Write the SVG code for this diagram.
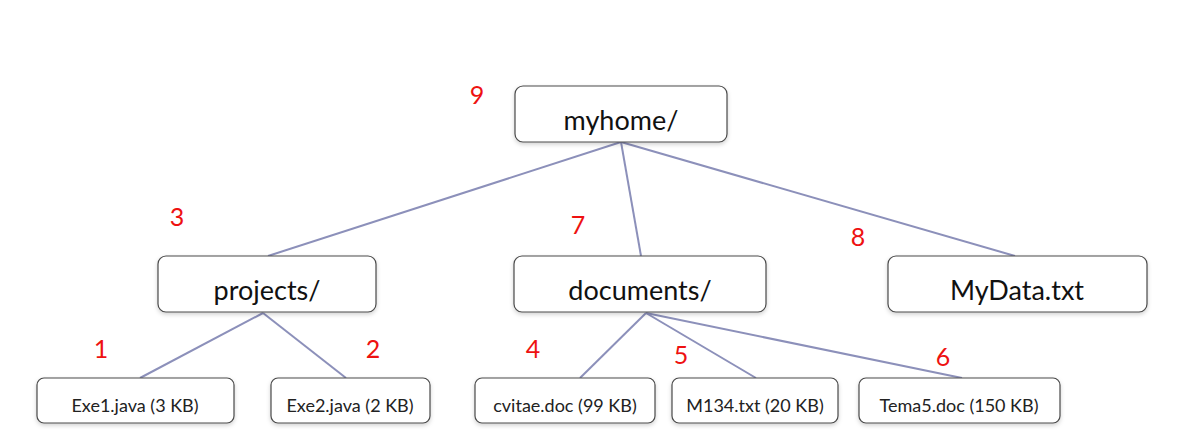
<svg xmlns="http://www.w3.org/2000/svg" width="1177" height="448" viewBox="0 0 1177 448">
<defs>
<filter id="sh" x="-10%" y="-20%" width="120%" height="150%">
<feDropShadow dx="0" dy="2" stdDeviation="2" flood-color="#000" flood-opacity="0.18"/>
</filter>
<style>
.box{fill:#fff;stroke:#4a4a4a;stroke-width:1.2;filter:url(#sh)}
.big{font-family:Lato,"Open Sans",sans-serif;font-size:27px;fill:#111;text-anchor:middle}
.small{font-family:Lato,"Open Sans",sans-serif;font-size:18px;fill:#222;text-anchor:middle}
.num{font-family:Lato,"Open Sans",sans-serif;font-size:25px;fill:#ee1111;text-anchor:middle}
.edge{stroke:#8c90ba;stroke-width:2;fill:none}
</style>
</defs>
<rect width="1177" height="448" fill="#fff"/>
<g id="connectors">
<line class="edge" x1="621" y1="142" x2="268" y2="256"/>
<line class="edge" x1="621" y1="142" x2="641" y2="256"/>
<line class="edge" x1="621" y1="142" x2="1015" y2="256"/>
<line class="edge" x1="263" y1="313" x2="140" y2="378"/>
<line class="edge" x1="263" y1="313" x2="346" y2="378"/>
<line class="edge" x1="646" y1="313" x2="580" y2="378"/>
<line class="edge" x1="646" y1="313" x2="756" y2="378"/>
<line class="edge" x1="646" y1="313" x2="962" y2="378"/>
</g>
<g id="myhome"><rect class="box" x="515" y="86" width="212" height="56" rx="8"/><text class="big" x="621" y="130">myhome/</text></g>
<g id="projects"><rect class="box" x="158" y="256" width="218" height="56" rx="8"/><text class="big" x="267" y="300">projects/</text></g>
<g id="documents"><rect class="box" x="514" y="256" width="252" height="56" rx="8"/><text class="big" x="640" y="300">documents/</text></g>
<g id="mydata"><rect class="box" x="888" y="256" width="259" height="56" rx="8"/><text class="big" x="1017" y="300">MyData.txt</text></g>
<g id="exe1"><rect class="box" x="37" y="378" width="197" height="45" rx="7"/><text class="small" x="135" y="412">Exe1.java (3 KB)</text></g>
<g id="exe2"><rect class="box" x="271" y="378" width="159" height="45" rx="7"/><text class="small" x="350" y="412">Exe2.java (2 KB)</text></g>
<g id="cvitae"><rect class="box" x="475" y="378" width="180" height="45" rx="7"/><text class="small" x="565" y="412">cvitae.doc (99 KB)</text></g>
<g id="m134"><rect class="box" x="672" y="378" width="166" height="45" rx="7"/><text class="small" x="755" y="412">M134.txt (20 KB)</text></g>
<g id="tema5"><rect class="box" x="859" y="378" width="201" height="45" rx="7"/><text class="small" x="959" y="412">Tema5.doc (150 KB)</text></g>
<g id="numbers">
<text class="num" x="477" y="104">9</text>
<text class="num" x="177" y="226">3</text>
<text class="num" x="578" y="234">7</text>
<text class="num" x="858" y="246">8</text>
<text class="num" x="101" y="358">1</text>
<text class="num" x="373" y="358">2</text>
<text class="num" x="533" y="358">4</text>
<text class="num" x="681" y="364">5</text>
<text class="num" x="943" y="366">6</text>
</g>
</svg>
